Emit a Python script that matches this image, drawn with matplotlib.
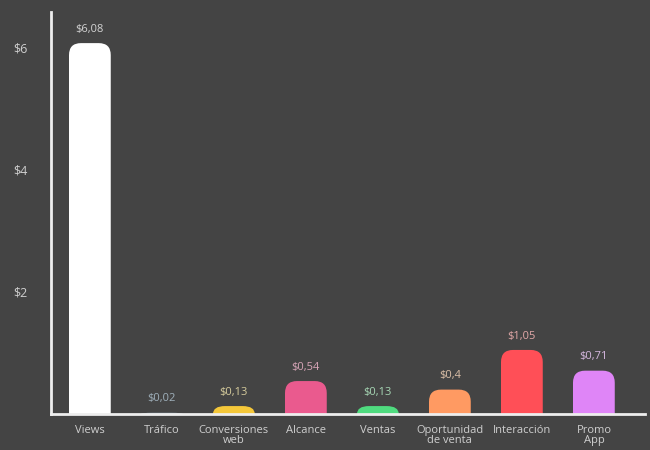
import matplotlib
matplotlib.use('Agg')
import matplotlib.pyplot as plt
from matplotlib.path import Path
from matplotlib.patches import PathPatch

# Data
categories = ['Views', 'Tráfico', 'Conversiones\nweb', 'Alcance', 'Ventas',
              'Oportunidad\nde venta', 'Interacción', 'Promo\nApp']
values = [6.08, 0.02, 0.13, 0.54, 0.13, 0.40, 1.05, 0.71]
value_labels = ['$6,08', '$0,02', '$0,13', '$0,54', '$0,13', '$0,4', '$1,05', '$0,71']
bar_colors = ['#ffffff', '#8fa3b0', '#f5c83a', '#ea5a8e', '#4fdb7f',
              '#ff9a62', '#ff4f57', '#df85f7']
label_colors = ['#d4d4d4', '#9fb0bb', '#d6cc9c', '#d8a6b8', '#a6d6b4',
                '#dcc0a8', '#e2a8a8', '#d6b8e0']
yticks = [2, 4, 6]
ytick_labels = ['$2', '$4', '$6']

bg = '#444444'
plt.rcParams['font.family'] = ['Open Sans', 'DejaVu Sans']

fig = plt.figure(figsize=(6.5, 4.5), dpi=100, facecolor=bg)
ax = fig.add_axes([51 / 650, 36 / 450, 594 / 650, 402 / 450])
ax.set_facecolor(bg)

ax.set_xlim(-0.54, 7.71)
ax.set_ylim(0, 6.59)

# Corner radius: ~12 px converted into data units on each axis
rx = 12 / 72
ry = 12 / 61
width = 0.58


def rounded_bar(x, h, color):
    '''Bar with rounded top corners'''
    x0, x1 = x - width / 2, x + width / 2
    r_y = min(ry, h)
    verts = [(x0, 0), (x0, h - r_y), (x0, h), (x0 + rx, h),
             (x1 - rx, h), (x1, h), (x1, h - r_y), (x1, 0), (x0, 0)]
    codes = [Path.MOVETO, Path.LINETO, Path.CURVE3, Path.CURVE3,
             Path.LINETO, Path.CURVE3, Path.CURVE3, Path.LINETO, Path.CLOSEPOLY]
    ax.add_patch(PathPatch(Path(verts, codes), facecolor=color,
                           edgecolor='none', zorder=2))


for i, (v, c) in enumerate(zip(values, bar_colors)):
    rounded_bar(i, v, c)
    ax.annotate(value_labels[i], xy=(i, v), xytext=(0, 10),
                textcoords='offset points', ha='center', va='center',
                color=label_colors[i], fontsize=8)

# Axes styling
for s in ['top', 'right']:
    ax.spines[s].set_visible(False)
for s in ['left', 'bottom']:
    ax.spines[s].set_color('#eeeeee')
    ax.spines[s].set_linewidth(2)
    ax.spines[s].set_zorder(3)

ax.set_xticks(range(len(categories)))
ax.set_xticklabels(categories, fontsize=8, color='#cfcfcf', linespacing=0.9)
ax.set_yticks(yticks)
ax.set_yticklabels(ytick_labels, fontsize=9, color='#cfcfcf')
ax.tick_params(axis='both', length=0)
ax.tick_params(axis='x', pad=8)
ax.tick_params(axis='y', pad=17)

fig.savefig('out.png', dpi=100, facecolor=bg)
